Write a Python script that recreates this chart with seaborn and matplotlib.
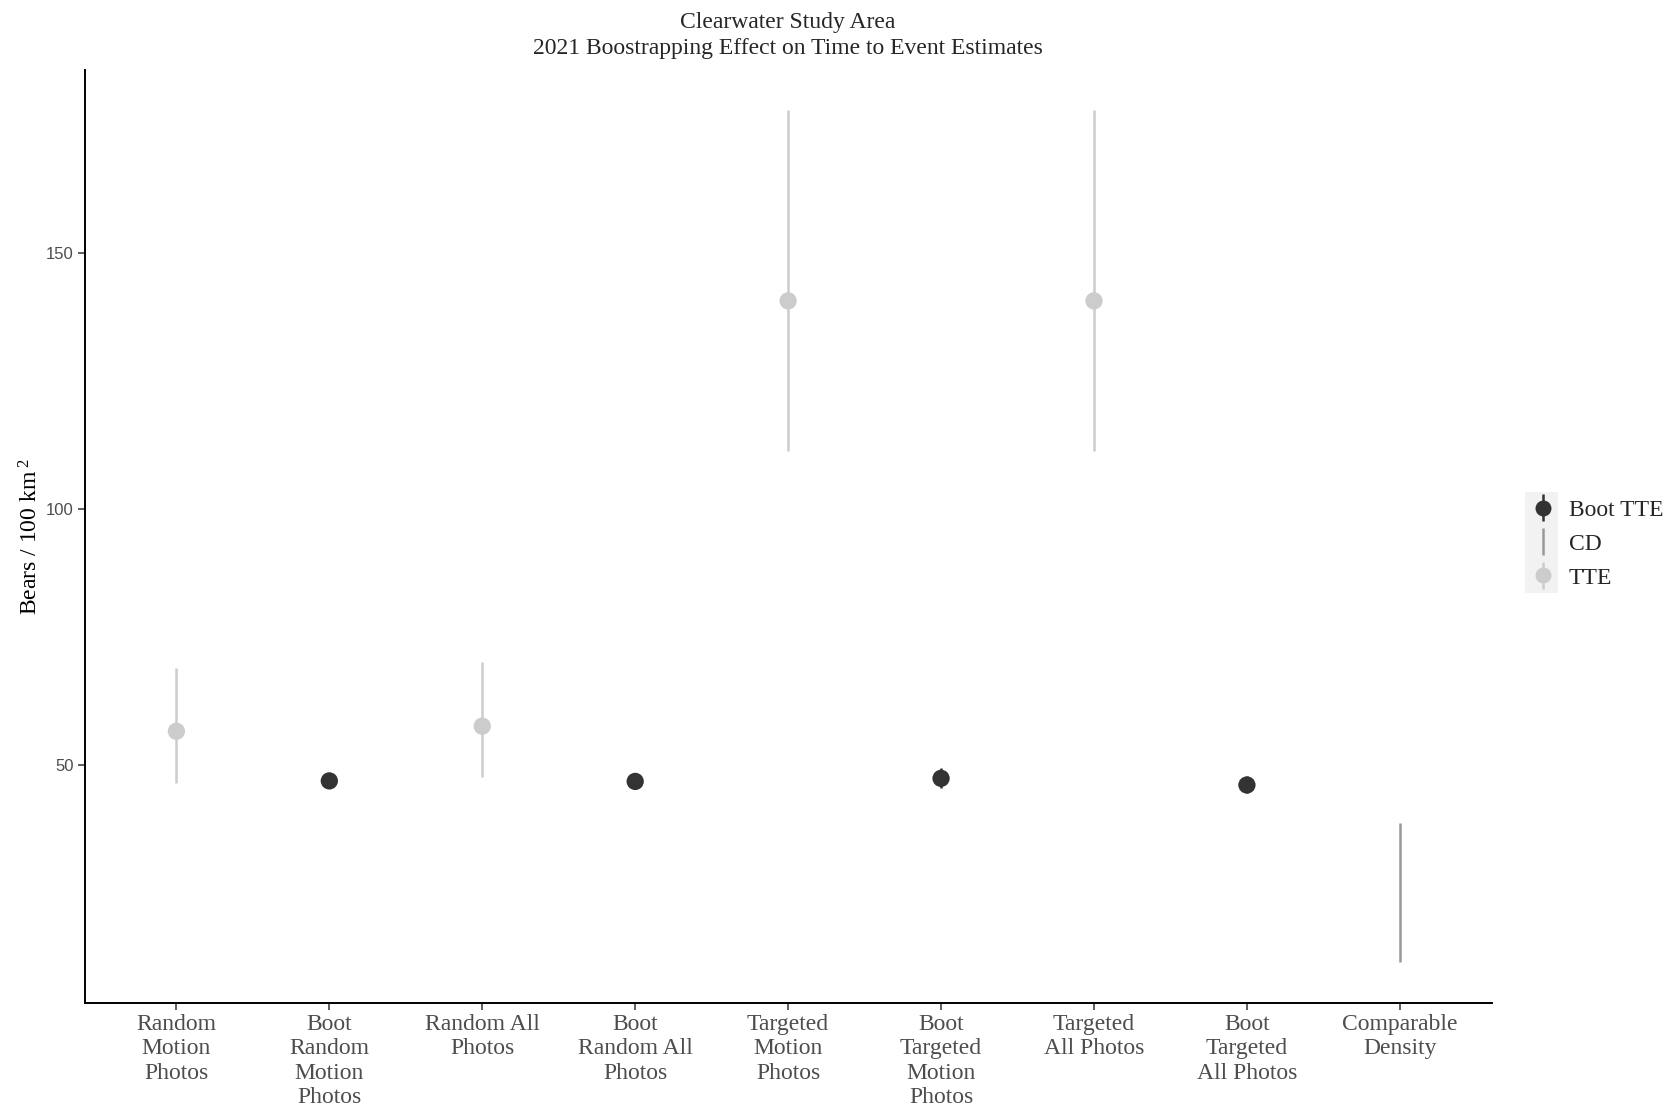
import numpy as np
import pandas as pd
import matplotlib
matplotlib.use("Agg")
import matplotlib.pyplot as plt
import seaborn as sns
from matplotlib.lines import Line2D
from matplotlib.collections import LineCollection
from matplotlib.container import ErrorbarContainer
from matplotlib.legend_handler import HandlerErrorbar
from matplotlib.patches import Rectangle

# Density estimates (bears / 100 km^2) with interval bounds
categories = [
    "Random\nMotion\nPhotos",
    "Boot\nRandom\nMotion\nPhotos",
    "Random All\nPhotos",
    "Boot\nRandom All\nPhotos",
    "Targeted\nMotion\nPhotos",
    "Boot\nTargeted\nMotion\nPhotos",
    "Targeted\nAll Photos",
    "Boot\nTargeted\nAll Photos",
    "Comparable\nDensity",
]
method = ["TTE", "Boot TTE", "TTE", "Boot TTE", "TTE", "Boot TTE", "TTE", "Boot TTE", "CD"]
estimate = [56.5, 46.8, 57.5, 46.7, 140.6, 47.3, 140.6, 46.0, np.nan]
lower = [46.4, 46.5, 47.5, 46.4, 111.3, 45.4, 111.3, 44.4, 11.4]
upper = [68.8, 47.1, 70.1, 47.0, 177.8, 49.4, 177.8, 47.7, 38.6]

legend_order = ["Boot TTE", "CD", "TTE"]
palette = {"Boot TTE": "#333333", "CD": "#999999", "TTE": "#cccccc"}

df = pd.DataFrame({"category": categories, "method": method,
                   "estimate": estimate, "lower": lower, "upper": upper})
df["category"] = pd.Categorical(df["category"], categories=categories, ordered=True)
df["pos"] = df["category"].cat.codes

sns.set_theme(style="white")
plt.rcParams["font.family"] = ["Liberation Serif", "DejaVu Serif"]
plt.rcParams["mathtext.fontset"] = "custom"
plt.rcParams["mathtext.rm"] = "Liberation Serif"
plt.rcParams["mathtext.it"] = "Liberation Serif:italic"

SERIF_SIZE = 17

fig = plt.figure(figsize=(16.79, 11.11), dpi=100)
ax = fig.add_axes([0.0504, 0.0972, 0.8380, 0.8402])

# interval segments
for m, sub in df.groupby("method"):
    ax.vlines(sub["pos"], sub["lower"], sub["upper"], colors=palette[m],
              linewidth=1.8, zorder=2)

# point estimates
pts = df.dropna(subset=["estimate"])
sns.scatterplot(data=pts, x="pos", y="estimate", hue="method", palette=palette,
                s=155, edgecolor="none", linewidth=0, legend=False, ax=ax, zorder=3)

ax.set_xlim(-0.6, len(categories) - 0.4)
ax.set_ylim(3.4, 185.8)
ax.set_xticks(range(len(categories)))
ax.set_xticklabels(categories, fontsize=SERIF_SIZE, color="#4d4d4d", linespacing=1.2,
                   family=["Liberation Serif", "DejaVu Serif"])
ax.set_yticks([50, 100, 150])
ax.set_yticklabels(["50", "100", "150"], fontsize=12, color="#4d4d4d",
                   family=["Liberation Sans", "DejaVu Sans"])
ax.tick_params(axis="both", which="both", length=5, width=1.1, color="#333333",
               direction="out", bottom=True, left=True, pad=3)
ax.set_xlabel("")
ax.set_ylabel(r"Bears / 100 km$^{\;2}$", fontsize=SERIF_SIZE, color="black", labelpad=2)
ax.set_title("Clearwater Study Area\n2021 Boostrapping Effect on Time to Event Estimates",
             fontsize=SERIF_SIZE, linespacing=1.3, pad=11)

for side in ["top", "right"]:
    ax.spines[side].set_visible(False)
for side in ["left", "bottom"]:
    ax.spines[side].set_color("black")
    ax.spines[side].set_linewidth(1.4)
ax.grid(False)

# legend: point-range keys on a light grey key background
fig.patches.append(Rectangle((1525 / 1679, 1 - 593 / 1111), 33 / 1679, 101 / 1111,
                             transform=fig.transFigure, facecolor="#f2f2f2",
                             edgecolor="none", zorder=0))
handles = []
for m in legend_order:
    bar = LineCollection([], colors=palette[m], linewidths=1.8)
    if m == "CD":
        handles.append(ErrorbarContainer((None, (), (bar,)), has_xerr=False, has_yerr=True))
    else:
        mk = Line2D([], [], marker="o", ls="none", color=palette[m], markersize=11.5,
                    markeredgewidth=0)
        handles.append(ErrorbarContainer((mk, (), (bar,)), has_xerr=False, has_yerr=True))
fig.legend(handles, legend_order, loc="center left",
           bbox_to_anchor=(1531 / 1679, 1 - 544 / 1111), frameon=False,
           fontsize=SERIF_SIZE, handlelength=1.0, handletextpad=0.6, labelspacing=0.52,
           borderaxespad=0, borderpad=0,
           handler_map={ErrorbarContainer: HandlerErrorbar(xerr_size=0.5, yerr_size=0.58)})

fig.savefig("out.png", dpi=100)
